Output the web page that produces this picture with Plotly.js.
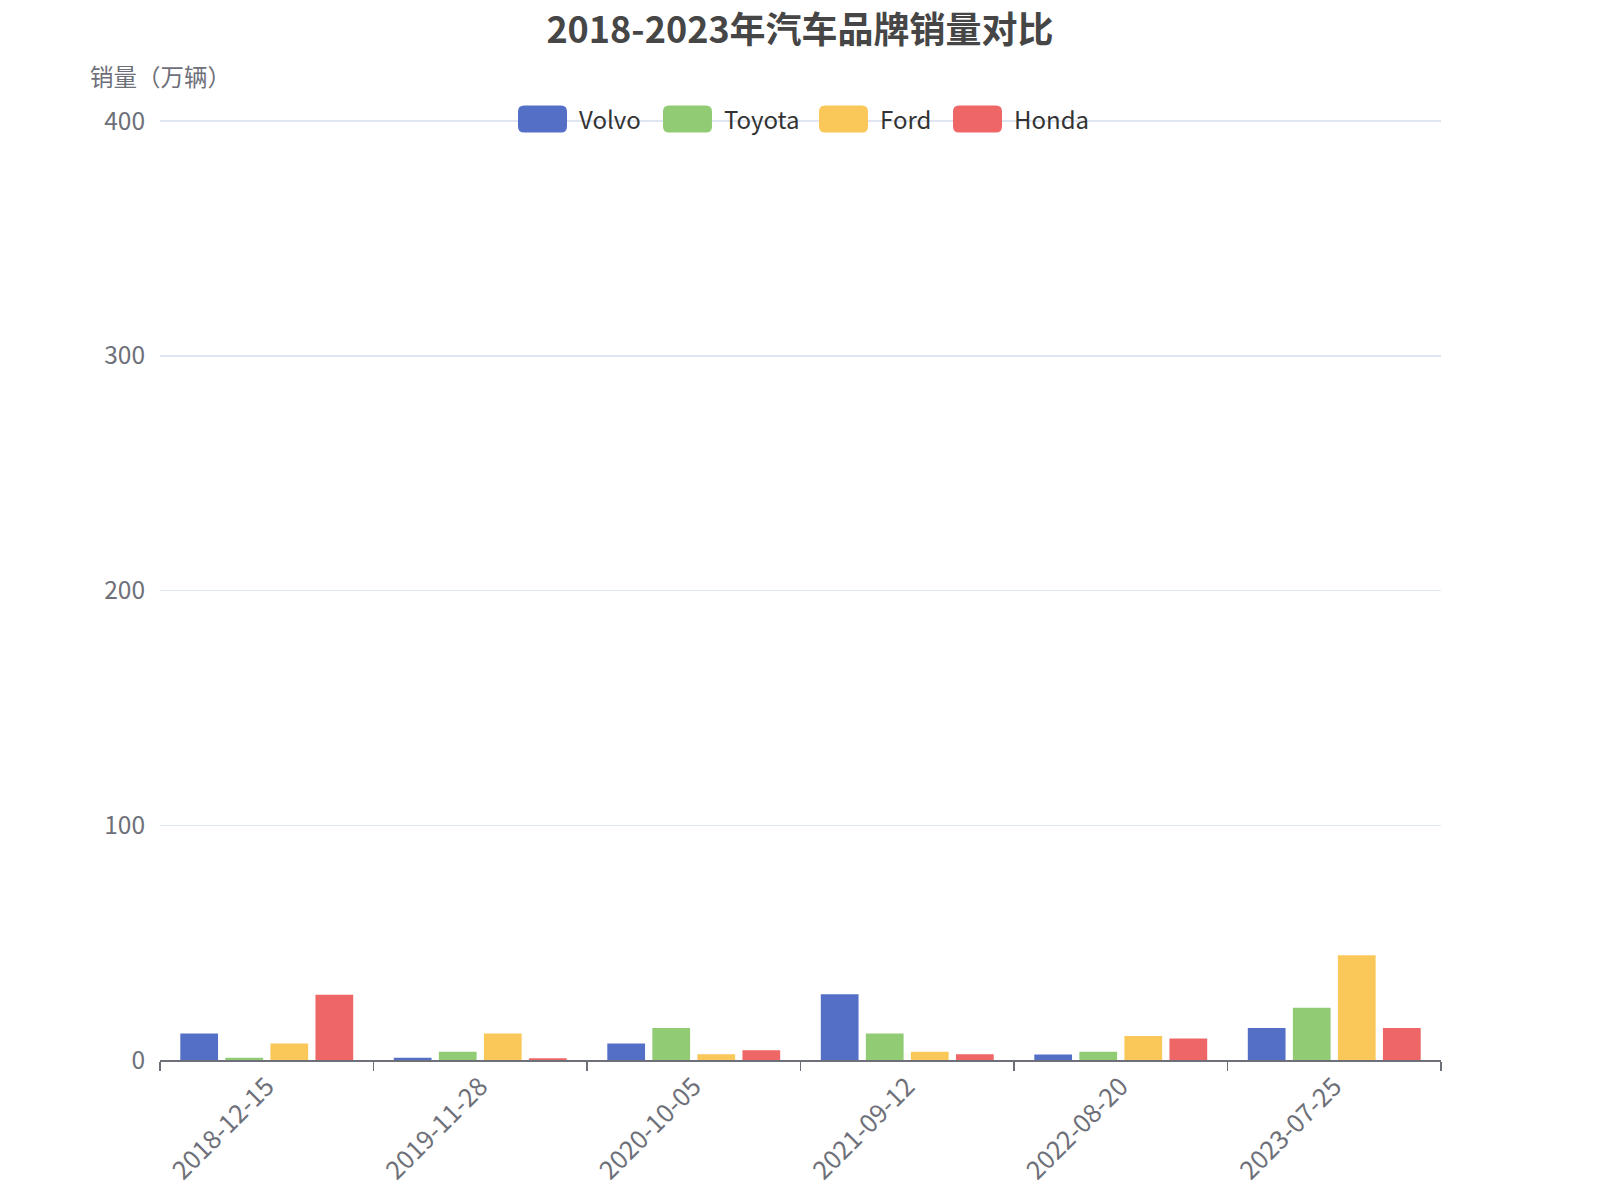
<!DOCTYPE html>
<html>
<head>
<meta charset="utf-8">
<script src="https://cdn.plot.ly/plotly-3.0.1.min.js"></script>
<style>html,body{margin:0;padding:0;background:#fff;}</style>
</head>
<body>
<div id="chart" style="width:1600px;height:1200px;"></div>
<script>
const categories = ['2018-12-15', '2019-11-28', '2020-10-05', '2021-09-12', '2022-08-20', '2023-07-25'];
const volvo  = [11.3, 1.0, 7.0, 28.0, 2.3, 13.6];
const toyota = [1.0, 3.5, 13.6, 11.3, 3.5, 22.3];
const ford   = [7.0, 11.3, 2.5, 3.5, 10.2, 44.6];
const honda  = [27.8, 0.7, 4.2, 2.5, 9.2, 13.6];
const seriesNames = ['Volvo', 'Toyota', 'Ford', 'Honda'];
const seriesColors = ['#5470c6', '#91cc75', '#fac858', '#ee6666'];
const yTicks = [0, 100, 200, 300, 400];

const seriesValues = [volvo, toyota, ford, honda];
const W = 1600, H = 1200;
const M = {l: 160, r: 159, t: 120, b: 140};
const PW = W - M.l - M.r, PH = H - M.t - M.b;
const FONT = '"Noto Sans CJK SC", "Noto Sans", sans-serif';

const traces = seriesNames.map((name, i) => ({
  type: 'bar',
  name: name,
  x: categories,
  y: seriesValues[i],
  marker: {color: seriesColors[i]},
  showlegend: false,
  hoverinfo: 'x+y+name'
}));

// custom legend (layout decoration) in pixel -> paper conversion
function px2x(px) { return (px - M.l) / PW; }
function px2y(py) { return (H - M.b - py) / PH; }
function roundRect(x0, y0, x1, y1, r) {
  const p = (x, y) => px2x(x).toFixed(5) + ',' + px2y(y).toFixed(5);
  return 'M' + p(x0 + r, y0) + ' L' + p(x1 - r, y0) + ' Q' + p(x1, y0) + ' ' + p(x1, y0 + r) +
    ' L' + p(x1, y1 - r) + ' Q' + p(x1, y1) + ' ' + p(x1 - r, y1) +
    ' L' + p(x0 + r, y1) + ' Q' + p(x0, y1) + ' ' + p(x0, y1 - r) +
    ' L' + p(x0, y0 + r) + ' Q' + p(x0, y0) + ' ' + p(x0 + r, y0) + ' Z';
}
const legendIconX = [518, 663, 819, 953];
const legendY = 119, iconW = 49, iconH = 27;
const shapes = [], annotations = [];
seriesNames.forEach((name, i) => {
  const x0 = legendIconX[i];
  shapes.push({
    type: 'path', xref: 'paper', yref: 'paper',
    path: roundRect(x0, legendY - iconH / 2, x0 + iconW, legendY + iconH / 2, 6),
    fillcolor: seriesColors[i], line: {width: 0}
  });
  annotations.push({
    xref: 'paper', yref: 'paper', x: px2x(x0 + iconW + 10), y: px2y(legendY),
    xanchor: 'left', yanchor: 'middle', showarrow: false,
    text: name, font: {family: FONT, size: 24, color: '#333333'}
  });
});
annotations.push({
  xref: 'paper', yref: 'paper', x: px2x(88), y: px2y(76),
  xanchor: 'left', yanchor: 'middle', showarrow: false,
  text: '销量（万辆）', font: {family: FONT, size: 23.5, color: '#6e7079'}
});

const layout = {
  width: W, height: H, autosize: false,
  margin: M,
  paper_bgcolor: '#ffffff', plot_bgcolor: '#ffffff',
  font: {family: FONT, color: '#6e7079'},
  title: {
    text: '<b>2018-2023年汽车品牌销量对比</b>',
    x: 0.5, xref: 'container', xanchor: 'center',
    y: 1 - 30 / H, yref: 'container', yanchor: 'middle',
    font: {family: FONT, size: 36, color: '#464646'}
  },
  barmode: 'group',
  bargap: 0.156,
  bargroupgap: 0.162,
  xaxis: {
    type: 'category',
    tickson: 'boundaries',
    ticks: 'outside', ticklen: 9, tickwidth: 1.5, tickcolor: '#6e7079',
    showline: true, linecolor: '#6e7079', linewidth: 1.5,
    showgrid: false, zeroline: false,
    tickangle: -45,
    tickfont: {family: FONT, size: 25.5, color: '#6e7079'}
  },
  yaxis: {
    range: [0, 400.5],
    tickvals: yTicks,
    showline: false, zeroline: false,
    gridcolor: '#e0e6f1', gridwidth: 1.5,
    ticks: '', ticklabelstandoff: 14,
    tickfont: {family: FONT, size: 24.5, color: '#6e7079'}
  },
  shapes: shapes,
  annotations: annotations
};

Plotly.newPlot('chart', traces, layout, {displayModeBar: false, staticPlot: true});
</script>
</body>
</html>
